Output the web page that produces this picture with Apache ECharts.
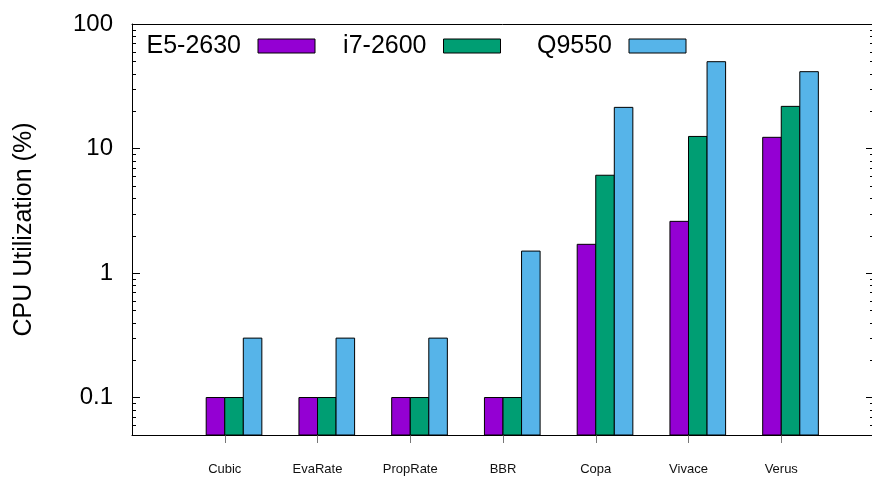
<!DOCTYPE html>
<html>
<head>
<meta charset="utf-8">
<script src="https://cdn.jsdelivr.net/npm/echarts@6/dist/echarts.min.js"></script>
<style>
  html, body { margin: 0; padding: 0; background: #fff; overflow: hidden; }
  #chart { width: 872px; height: 483px; }
</style>
</head>
<body>
<div id="chart"></div>
<script>
// Category slots: empty slots at both ends pad the x range to [-1, 7]
const categories = ['', 'Cubic', 'EvaRate', 'PropRate', 'BBR', 'Copa', 'Vivace', 'Verus', ''];
const algorithms = ['Cubic', 'EvaRate', 'PropRate', 'BBR', 'Copa', 'Vivace', 'Verus'];
const seriesNames = ['E5-2630', 'i7-2600', 'Q9550'];

// CPU utilization (%) per congestion-control algorithm
const e5_2630 = [0.1, 0.1, 0.1, 0.1, 1.7, 2.6, 12.3];
const i7_2600 = [0.1, 0.1, 0.1, 0.1, 6.1, 12.5, 21.8];
const q9550   = [0.3, 0.3, 0.3, 1.5, 21.4, 49.8, 41.4];

// Log-axis range and minor tick values
const yMin = 0.05;
const yMax = 100;
const minorTicks = [
  0.06, 0.07, 0.08, 0.09,
  0.2, 0.3, 0.4, 0.5, 0.6, 0.7, 0.8, 0.9,
  2, 3, 4, 5, 6, 7, 8, 9,
  20, 30, 40, 50, 60, 70, 80, 90
];

const colors = ['#9400D3', '#009E73', '#56B4E9'];
const font = '"Liberation Sans", Arial, Helvetica, sans-serif';

const chart = echarts.init(document.getElementById('chart'), null, { renderer: 'canvas' });

// Bars are drawn side by side starting at the category tick minus one bar width
function barRenderer(slot) {
  return function (params, api) {
    const c = api.coord([api.value(0), api.value(1)]);
    const band = api.size([1, 0])[0];
    const w = band / 5;
    const base = params.coordSys.y + params.coordSys.height;
    return {
      type: 'rect',
      shape: { x: c[0] + (slot - 1) * w, y: c[1], width: w, height: base - c[1] },
      style: api.style({ stroke: '#000', lineWidth: 1 })
    };
  };
}

function toPoints(values) {
  return values.map((v, i) => [categories.indexOf(algorithms[i]), v]);
}

const barData = [e5_2630, i7_2600, q9550];

const barSeries = seriesNames.map((name, k) => ({
  name: name,
  type: 'custom',
  xAxisIndex: 0,
  yAxisIndex: 0,
  silent: true,
  itemStyle: { color: colors[k], borderColor: '#000', borderWidth: 1 },
  renderItem: barRenderer(k),
  data: toPoints(barData[k]),
  z: 3
}));

// Minor ticks on both the left and right frame edges
const minorTickSeries = {
  name: 'minor-ticks',
  type: 'custom',
  xAxisIndex: 0,
  yAxisIndex: 0,
  silent: true,
  clip: false,
  renderItem: function (params, api) {
    const y = Math.round(api.coord([0, api.value(1)])[1]) + 0.5;
    const x0 = params.coordSys.x;
    const x1 = x0 + params.coordSys.width;
    return {
      type: 'group',
      children: [
        { type: 'line', shape: { x1: x0, y1: y, x2: x0 + 4, y2: y }, style: { stroke: '#000', lineWidth: 1 } },
        { type: 'line', shape: { x1: x1 - 4, y1: y, x2: x1, y2: y }, style: { stroke: '#000', lineWidth: 1 } }
      ]
    };
  },
  data: minorTicks.map(v => [0, v]),
  z: 5
};

const option = {
  animation: false,
  backgroundColor: '#fff',
  textStyle: { fontFamily: font },
  grid: {
    left: 132, top: 24, right: -2, bottom: 48,
    containLabel: false,
    outerBoundsMode: 'none'
  },
  legend: {
    left: 131,
    top: 32,
    padding: 0,
    itemGap: 1,
    itemWidth: 57,
    itemHeight: 14,
    align: 'right',
    selectedMode: false,
    textStyle: {
      fontSize: 25, fontFamily: font, color: '#000',
      width: 110, padding: [0, 12, 0, 0], lineHeight: 28
    },
    data: seriesNames.map((n, i) => ({
      name: n,
      icon: 'rect',
      itemStyle: { color: colors[i], borderColor: '#000', borderWidth: 1 }
    }))
  },
  xAxis: [
    {
      type: 'category',
      data: categories,
      boundaryGap: false,
      position: 'bottom',
      axisLine: { show: true, lineStyle: { color: '#000', width: 1 } },
      axisTick: {
        show: true,
        length: 8,
        interval: function (index) { return index > 0 && index < categories.length - 1; },
        lineStyle: { color: '#777', width: 1 }
      },
      axisLabel: {
        interval: 0,
        fontSize: 13,
        fontFamily: font,
        color: '#111',
        margin: 28
      },
      splitLine: { show: false }
    },
    {
      type: 'category',
      data: categories,
      boundaryGap: false,
      position: 'top',
      axisLine: { show: true, lineStyle: { color: '#000', width: 1 } },
      axisTick: { show: false },
      axisLabel: { show: false },
      splitLine: { show: false }
    }
  ],
  yAxis: [
    {
      type: 'log',
      logBase: 10,
      min: yMin,
      max: yMax,
      position: 'left',
      name: 'CPU Utilization (%)',
      nameLocation: 'middle',
      nameGap: 95,
      nameTextStyle: { fontSize: 25, fontFamily: font, color: '#000' },
      axisLine: { show: true, lineStyle: { color: '#000', width: 1 } },
      axisTick: { show: true, inside: true, length: 8, lineStyle: { color: '#000', width: 1 } },
      axisLabel: {
        showMinLabel: false,
        fontSize: 24,
        fontFamily: font,
        color: '#000',
        margin: 19
      },
      splitLine: { show: false }
    },
    {
      type: 'log',
      logBase: 10,
      min: yMin,
      max: yMax,
      position: 'right',
      axisLine: { show: true, lineStyle: { color: '#000', width: 1 } },
      axisTick: { show: true, inside: true, length: 8, lineStyle: { color: '#000', width: 1 } },
      axisLabel: { show: false },
      splitLine: { show: false }
    }
  ],
  series: barSeries.concat([minorTickSeries])
};

chart.setOption(option);
</script>
</body>
</html>
